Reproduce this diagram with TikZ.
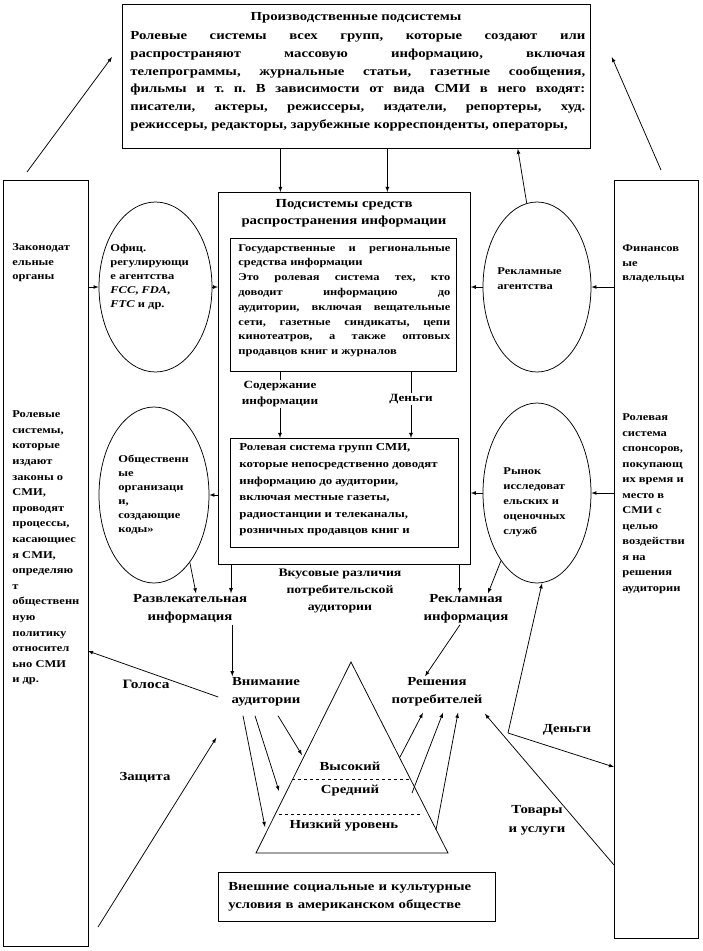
\documentclass[tikz,border=0pt]{standalone}
\usepackage{fontspec}
\setmainfont{Liberation Serif}[FakeStretch=1.2]
\usetikzlibrary{shapes,arrows}

\newcommand{\fsz}[2]{\fontsize{#1}{#2}\selectfont}
\frenchspacing

\begin{document}
\begin{tikzpicture}[x=1pt, y=-1pt, line width=0.75pt, font=\bfseries, >=latex]
\tikzstyle{vertexr}=[rectangle, draw, inner sep=0pt, anchor=north west]
\tikzstyle{vertexc}=[ellipse, draw, inner sep=0pt]
\tikzstyle{textr}=[inner sep=0pt, anchor=north west, align=left]
\tikzstyle{textc}=[inner sep=1pt, align=center]
\tikzstyle{smalltext}=[textr, font=\bfseries\fsz{10.4}{14.5}]
\tikzstyle{labeltext}=[textc, font=\bfseries\fsz{12.3}{18}]
\tikzstyle{drawstyle}=[->]

\useasboundingbox (0,0) rectangle (702,951);

% production subsystems
\node[vertexr, minimum width=468pt, minimum height=144pt] (prod) at (122,4) {};
\node[textc, font=\bfseries\fsz{12.3}{14.5}] (prodtitle) at (356,18) {Производственные подсистемы};
\node[textr, text width=455pt, align=justify, font=\bfseries\fsz{12.3}{17.8}] (prodtext) at (130,31) {Ролевые системы всех групп, которые создают или\linebreak распространяют массовую информацию, включая\linebreak телепрограммы, журнальные статьи, газетные сообщения,\linebreak фильмы и т. п. В зависимости от вида СМИ в него входят:\linebreak писатели, актеры, режиссеры, издатели, репортеры, худ.\linebreak режиссеры, редакторы, зарубежные корреспонденты, операторы,\parfillskip=0pt};

% side boxes
\node[vertexr, minimum width=85pt, minimum height=766pt] (legis) at (3,180) {};
\node[smalltext] (legistext) at (12,243.5) {Законодат\\ельные\\органы};
\node[textr, font=\bfseries\fsz{10.4}{15.6}] (legisrole) at (12,410.5) {Ролевые\\системы,\\которые\\издают\\законы о\\СМИ,\\проводят\\процессы,\\касающиес\\я СМИ,\\определяю\\т\\общественн\\ную\\политику\\относител\\ьно СМИ\\и др.};
\node[vertexr, minimum width=84pt, minimum height=758pt] (fin) at (614,180) {};
\node[smalltext] (fintext) at (622,244.5) {Финансов\\ые\\владельцы};
\node[textr, font=\bfseries\fsz{10.4}{15.5}] (finrole) at (622,413.5) {Ролевая\\система\\спонсоров,\\покупающ\\их время и\\место в\\СМИ с\\целью\\воздействи\\я на\\решения\\аудитории};

% distribution subsystems
\node[vertexr, minimum width=252pt, minimum height=372pt] (dist) at (218,192) {};
\node[textc, font=\bfseries\fsz{12.3}{16.5}] (disttitle) at (344,213.5) {Подсистемы средств\\распространения информации};
\node[vertexr, minimum width=226pt, minimum height=133pt] (gov) at (230,238) {};
\node[textr, text width=212pt, align=justify, font=\bfseries\fsz{10.4}{14.8}] (govtext) at (238,244) {Государственные и региональные\linebreak средства информации\par Это ролевая система тех, кто\linebreak доводит информацию до\linebreak аудитории, включая вещательные\linebreak сети, газетные синдикаты, цепи\linebreak кинотеатров, а также оптовых\linebreak продавцов книг и журналов};
\node[textc, font=\bfseries\fsz{11}{16}] (cont) at (280,394) {Содержание\\информации};
\node[textc, font=\bfseries\fsz{11}{16}] (money) at (411,399) {Деньги};
\node[vertexr, minimum width=228pt, minimum height=109pt] (med) at (230,438) {};
\node[textr, font=\bfseries\fsz{10.7}{16.6}] (medtext) at (239,443.5) {Ролевая система групп СМИ,\\которые непосредственно доводят\\информацию до аудитории,\\включая местные газеты,\\радиостанции и телеканалы,\\розничных продавцов книг и};
\draw (cont.north |- gov.south) -- (cont.north);
\draw[drawstyle] (cont.south) -- (cont.south |- med.north);
\draw (money.north |- gov.south) -- (money.north);
\draw[drawstyle] (money.south) -- (money.south |- med.north);
\draw[drawstyle] ([xshift=-76pt]prod.south) -- ([xshift=-76pt]prod.south |- dist.north);
\draw[drawstyle] ([xshift=31pt]prod.south) -- ([xshift=31pt]prod.south |- dist.north);

% ellipses
\node[vertexc, minimum width=113pt, minimum height=170pt] (reg) at (155.5,287) {};
\node[smalltext, font=\bfseries\fsz{10.4}{14}] (regtext) at (110,243.5) {Офиц.\\регулирующи\\е агентства\\\textit{FCC}, \textit{FDA},\\\textit{FTC} и др.};
\node[vertexc, minimum width=110pt, minimum height=176pt] (org) at (154,495) {};
\node[smalltext, font=\bfseries\fsz{10.4}{14}] (orgtext) at (118,454.5) {Общественн\\ые\\организаци\\и,\\создающие\\коды»};
\node[vertexc, minimum width=108pt, minimum height=170pt] (adv) at (537,287) {};
\node[smalltext] (advtext) at (497,267.5) {Рекламные\\агентства};
\node[vertexc, minimum width=108pt, minimum height=180pt] (mkt) at (537,493) {};
\node[smalltext, font=\bfseries\fsz{10.4}{15}] (mkttext) at (503,467.5) {Рынок\\исследоват\\ельских и\\оценочных\\служб};
\draw[drawstyle] (legis.east |- reg.west) -- (reg.west);
\draw[drawstyle] (reg.east) -- (reg.east -| dist.west);
\draw[drawstyle] (dist.west |- org.east) -- (org.east);
\draw[drawstyle] (fin.west |- adv.east) -- (adv.east);
\draw[drawstyle] (adv.west) -- (adv.west -| dist.east);
\draw[drawstyle] (fin.west |- mkt.east) -- (mkt.east);
\draw[drawstyle] (mkt.west) -- (mkt.west -| dist.east);
\draw[drawstyle] (adv.97) -- ([xshift=-73pt]prod.south east);
\coordinate (lt) at (27,172);
\coordinate (rt) at (661,170);
\draw[drawstyle] (lt) -- ([xshift=-10pt,yshift=-53pt]prod.north west);
\draw[drawstyle] (rt) -- ([xshift=21pt,yshift=-53pt]prod.north east);

% information flows
\node[labeltext] (ent) at (190,609) {Развлекательная\\информация};
\node[labeltext] (advinfo) at (466,609) {Рекламная\\информация};
\node[textc, font=\bfseries\fsz{11.5}{17}] (taste) at (340,591) {Вкусовые различия\\потребительской\\аудитории};
\node[labeltext] (att) at (266,692) {Внимание\\аудитории};
\node[labeltext] (dec) at (437,692) {Решения\\потребителей};
\draw[drawstyle] (org.-62) -- ([xshift=6pt]ent.north);
\draw[drawstyle] (mkt.-118) -- ([xshift=22pt]advinfo.north);
\draw[drawstyle] ([xshift=13pt]dist.south west) -- ([xshift=13pt]dist.south west |- ent.north);
\draw[drawstyle] ([xshift=-11pt]dist.south east) -- ([xshift=-11pt]dist.south east |- advinfo.north);
\draw[drawstyle] ([xshift=2pt]att.north west |- ent.south) -- ([xshift=2pt]att.north west);
\draw[drawstyle] ([xshift=-6pt]advinfo.south) -- ([xshift=-12pt]dec.north);

% audience pyramid
\coordinate (ptop) at (351,662);
\coordinate (pleft) at (256,853);
\coordinate (pright) at (448,853);
\draw (ptop) -- (pleft) -- (pright) -- cycle;
\coordinate (d1l) at (292,779);
\coordinate (d1r) at (411,779);
\coordinate (d2l) at (279,814);
\coordinate (d2r) at (423,814);
\draw[dashed, line width=0.6pt] (d1l) -- (d1r);
\draw[dashed, line width=0.6pt] (d2l) -- (d2r);
\node[textc, font=\bfseries\fsz{12.3}{14}] (high) at (350,766) {Высокий};
\node[textc, font=\bfseries\fsz{12.3}{14}] (middle) at (350,791) {Средний};
\node[textc, font=\bfseries\fsz{12.3}{14}] (low) at (344,826) {Низкий уровень};
\coordinate (pa1) at (302,755);
\coordinate (pa2) at (279,791);
\coordinate (pa3) at (265,827);
\draw[drawstyle] ([xshift=12pt,yshift=-8pt]att.south) -- (pa1);
\draw[drawstyle] ([xshift=-11pt,yshift=-8pt]att.south) -- (pa2);
\draw[drawstyle] ([xshift=-23pt,yshift=-8pt]att.south) -- (pa3);
\coordinate (pb1) at (400,757);
\coordinate (pb2) at (412,793);
\coordinate (pb3) at (436,830);
\draw[drawstyle] (pb1) -- ([xshift=-14pt,yshift=-5pt]dec.south);
\draw[drawstyle] (pb2) -- ([xshift=6pt,yshift=-5pt]dec.south);
\draw[drawstyle] (pb3) -- ([xshift=21pt,yshift=-5pt]dec.south);

% voices and defence
\node[textc, font=\bfseries\fsz{12.8}{14}] (voice) at (146,684) {Голоса};
\node[textc, font=\bfseries\fsz{12.3}{14}] (guard) at (145,777) {Защита};
\coordinate (vt) at (88,651);
\coordinate (gb) at (98,927);
\draw[drawstyle] ([xshift=-12pt,yshift=-5pt]att.west) -- (vt);
\draw[drawstyle] (gb) -- ([xshift=-14pt,yshift=-30pt]att.south west);

% money and goods
\coordinate (junc) at (508,733);
\coordinate (fm) at (614,767);
\coordinate (fg) at (614,865);
\node[textc, font=\bfseries\fsz{12.3}{14}] (money2) at (567,730) {Деньги};
\node[textc, font=\bfseries\fsz{12.3}{19}] (goods) at (537,820) {Товары\\и услуги};
\draw[drawstyle] (junc) -- ([xshift=5pt]mkt.south);
\draw[drawstyle] (junc) -- (fm);
\draw[drawstyle] (fg) -- ([xshift=1pt,yshift=-6pt]dec.south east);

% society
\node[vertexr, minimum width=277pt, minimum height=49pt, text width=257pt, inner xsep=10pt, font=\bfseries\fsz{12.3}{18}] (soc) at (218,872) {\raisebox{-2pt}{Внешние социальные и культурные}\\\raisebox{-2pt}{условия в американском обществе}};
\end{tikzpicture}
\end{document}
